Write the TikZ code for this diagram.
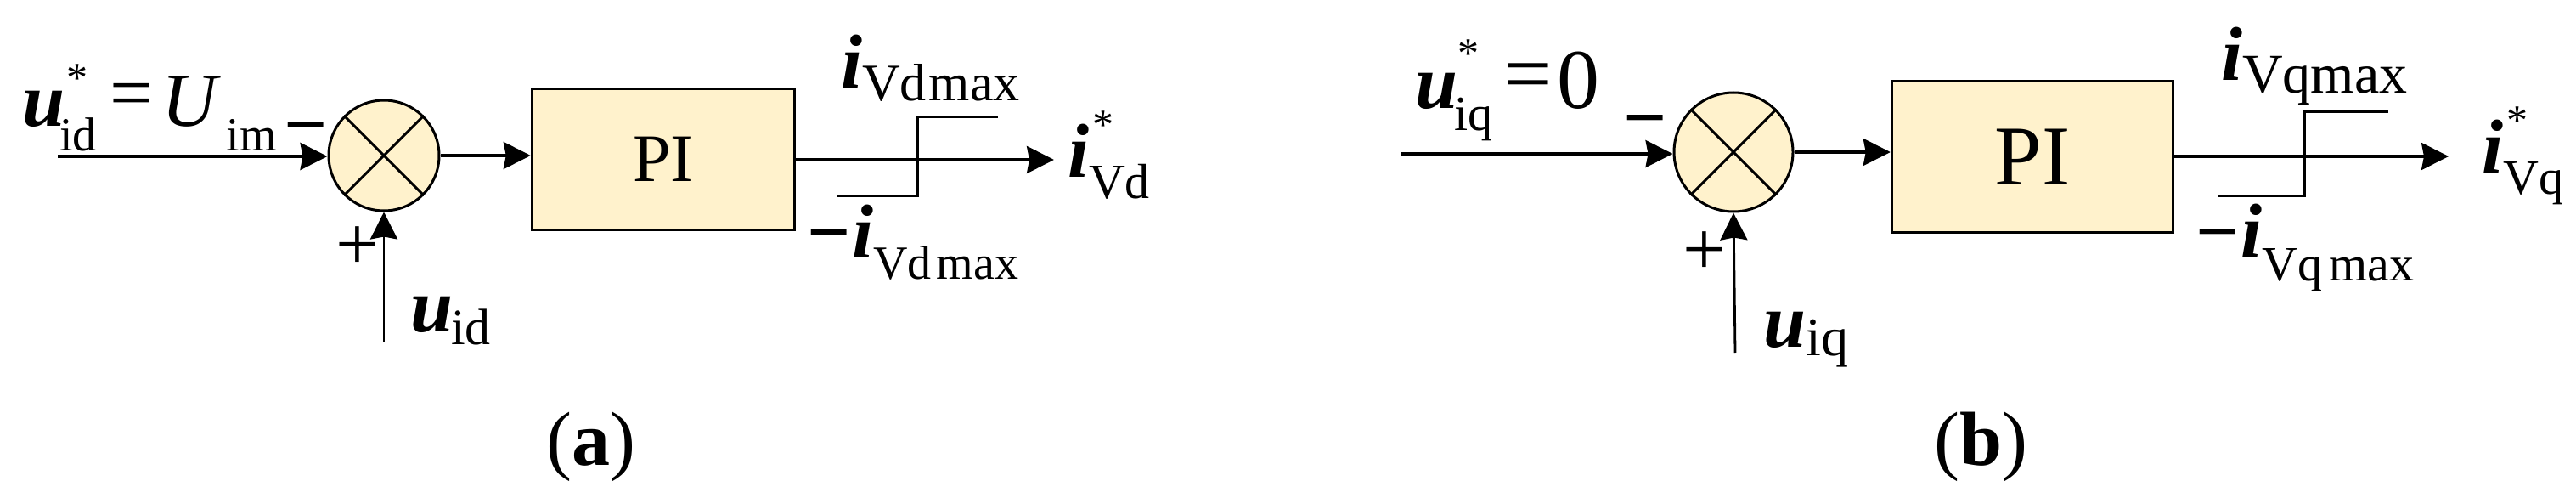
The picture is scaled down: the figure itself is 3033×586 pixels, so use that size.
\documentclass[tikz,border=0pt]{standalone}
\usepackage{fontspec}
\setmainfont{Liberation Serif}
\usetikzlibrary{arrows.meta}
\definecolor{boxfill}{HTML}{FFF2CC}
\newcommand\bi[1]{\textbf{\textit{#1}}}
\newcommand\fs[1]{\fontsize{#1}{#1}\selectfont}
\begin{document}
\begin{tikzpicture}[x=1pt,y=-1pt,
  lbl/.style={inner sep=0pt, anchor=base west, font=\fs{90}},
  sgn/.style={inner sep=0pt, font=\fs{90}},
  sumnode/.style={circle, draw, fill=boxfill, line width=3pt, minimum size=#1, inner sep=0pt},
  blk/.style={draw, fill=boxfill, line width=3.5pt, inner sep=0pt},
  arr/.style={line width=3.2pt, -{Stealth[length=32pt,width=32pt,inset=3pt]}},
  fbarr/.style={line width=2.8pt, -{Stealth[length=32pt,width=32pt,inset=3pt]}},
  sat/.style={line width=3pt},
  cross/.style={line width=3pt},
  capt/.style={inner sep=0pt, anchor=base, font=\fs{90}},
]
\useasboundingbox (0,0) rectangle (3033,586);

% ---------------- panel (a) ----------------
\node[sumnode=130pt] (sA) at (452,183) {};
\node[blk, minimum width=309pt, minimum height=166pt, font=\fs{80}] (piA) at (781,187.5) {PI};
\draw[cross] (sA.45) -- (sA.225) (sA.135) -- (sA.315);
\coordinate (inA) at (68,184);
\coordinate (outA) at (1241,188);
\coordinate (fbA) at (452,402);
\draw[arr] (inA) -- (sA.west |- inA);
\draw[arr] (sA.east) -- (piA.west |- sA.east);
\draw[arr] (piA.east |- outA) -- (outA);
\draw[fbarr] (fbA) -- (sA.south);
\draw[sat] (985,230) -- (1080,230) -- (1080,137) -- (1175,137);

\node[lbl] (refA) at (26,148) {\bi{u}\hspace{-6pt}\rlap{\raisebox{40pt}{\fs{50}\hspace{8pt}*}}\raisebox{-29pt}{\fs{56}id}\hspace{16pt}\raisebox{9pt}{=}\hspace{10pt}\textit{U}\hspace{6pt}\raisebox{-29pt}{\fs{56}im}};
\node[sgn] (mA) at (360,160) {\textbf{−}};
\node[sgn] (pA) at (421,292) {+};
\node[lbl] (fbLA) at (483,390) {\bi{u}\hspace{-2pt}\raisebox{-15pt}{\fs{60}id}};
\node[lbl] (maxA) at (990,103) {\bi{i}\raisebox{-15pt}{\fs{62}Vd\hspace{3pt}max}};
\node[lbl] (minA) at (950,303) {\textbf{−}\hspace{2pt}\bi{i}\raisebox{-25pt}{\fs{56}Vd\hspace{6pt}max}};
\node[lbl] (oA) at (1257,208) {\bi{i}\rlap{\raisebox{45pt}{\fs{50}\hspace{4pt}*}}\raisebox{-25pt}{\fs{58}Vd}};
\node[capt] (capA) at (696,547) {(\textbf{a})};

% ---------------- panel (b) ----------------
\node[sgn] (mB) at (1937,152) {\textbf{−}};
\node[sumnode=140pt] (sB) at (2041,179) {};
\node[blk, minimum width=331pt, minimum height=178pt, font=\fs{100}] (piB) at (2393,184.5) {PI};
\draw[cross] (sB.45) -- (sB.225) (sB.135) -- (sB.315);
\coordinate (inB) at (1650,181);
\coordinate (outB) at (2883,184);
\coordinate (fbB) at (2043,415);
\draw[arr] (inB) -- (sB.west |- inB);
\draw[arr] (sB.east) -- (piB.west |- sB.east);
\draw[arr] (piB.east |- outB) -- (outB);
\draw[fbarr] (fbB) -- (sB.south);
\draw[sat] (2612,230) -- (2713,230) -- (2713,131) -- (2812,131);

\node[lbl] (refB) at (1666,127) {\bi{u}\rlap{\raisebox{48pt}{\fs{50}*}}\hspace{-4pt}\raisebox{-26pt}{\fs{58}iq}\hspace{14pt}\raisebox{7pt}{\fs{100}=}\hspace{6pt}{\fs{100}0}};
\node[sgn] (pB) at (2007,298) {+};
\node[lbl] (fbLB) at (2076,408) {\bi{u}\raisebox{-10pt}{\fs{64}iq}};
\node[lbl] (maxB) at (2615,95) {\bi{i}\raisebox{-15pt}{\fs{66}Vqmax}};
\node[lbl] (minB) at (2585,302) {\textbf{−}\hspace{2pt}\bi{i}\raisebox{-28pt}{\fs{58}Vq\hspace{8pt}max}};
\node[lbl] (oB) at (2922,203) {\bi{i}\rlap{\raisebox{45pt}{\fs{50}\hspace{4pt}*}}\raisebox{-25pt}{\fs{58}Vq}};
\node[capt] (capB) at (2332,547) {(\textbf{b})};
\end{tikzpicture}
\end{document}
